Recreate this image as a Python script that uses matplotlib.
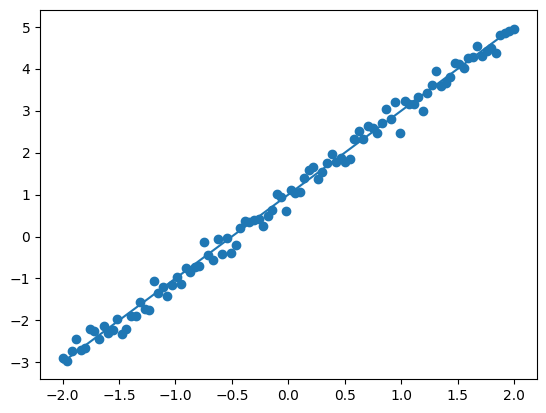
import numpy as np
import matplotlib
matplotlib.use("Agg")
import matplotlib.pyplot as plt

x = np.linspace(-2, 2, 100)
y = [
    -2.90, -2.96, -2.72, -2.45, -2.70, -2.66, -2.20, -2.26, -2.45, -2.14,
    -2.30, -2.22, -1.97, -2.33, -2.20, -1.90, -1.90, -1.57, -1.73, -1.76,
    -1.07, -1.35, -1.20, -1.42, -1.16, -0.97, -1.13, -0.76, -0.84, -0.72,
    -0.70, -0.12, -0.45, -0.55, -0.07, -0.42, -0.04, -0.40, -0.20, 0.20,
    0.36, 0.35, 0.40, 0.42, 0.26, 0.50, 0.64, 1.02, 0.95, 0.61,
    1.10, 1.05, 1.07, 1.40, 1.58, 1.65, 1.37, 1.53, 1.75, 1.98,
    1.77, 1.88, 1.77, 1.86, 2.32, 2.52, 2.33, 2.63, 2.58, 2.47,
    2.72, 3.05, 2.80, 3.21, 2.46, 3.24, 3.17, 3.17, 3.33, 3.00,
    3.42, 3.62, 3.95, 3.60, 3.66, 3.80, 4.14, 4.12, 4.02, 4.27,
    4.28, 4.55, 4.30, 4.42, 4.50, 4.38, 4.80, 4.86, 4.90, 4.95,
]
slope = 2.0
intercept = 1.0
fit = slope * x + intercept

W, H = 546, 413
fig = plt.figure(figsize=(W / 100, H / 100), dpi=100)
ax = fig.add_axes([40 / W, (H - 379) / H, 496.5 / W, 368.7 / H])
ax.scatter(x, y)
ax.plot(x, fit)
fig.savefig("out.png", dpi=100)
